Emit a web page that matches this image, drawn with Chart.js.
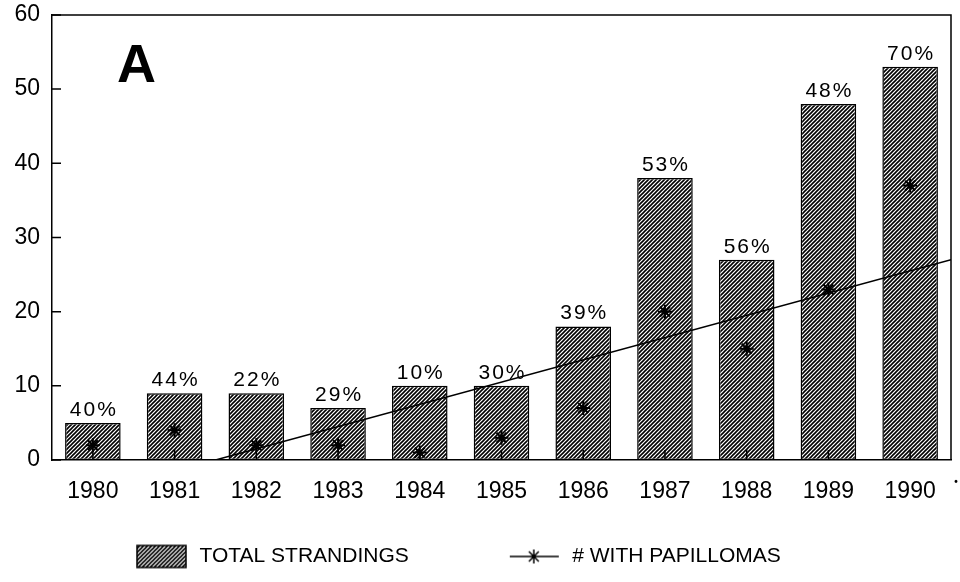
<!DOCTYPE html>
<html>
<head>
<meta charset="utf-8">
<title>Strandings</title>
<script src="https://cdn.jsdelivr.net/npm/chart.js@4.4.1/dist/chart.umd.min.js"></script>
<style>
    html, body { margin: 0; padding: 0; background: #fff; }
    #wrap { width: 960px; height: 582px; }
</style>
</head>
<body>
<div id="wrap"><canvas id="strandChart" width="960" height="582"></canvas></div>
<script>
const years = ['1980', '1981', '1982', '1983', '1984', '1985', '1986', '1987', '1988', '1989', '1990'];
const totalStrandings = [5, 9, 9, 7, 10, 10, 18, 38, 27, 48, 53];
const withPapillomas = [2, 4, 2, 2, 1, 3, 7, 20, 15, 23, 37];
const percentLabels = ['40%', '44%', '22%', '29%', '10%', '30%', '39%', '53%', '56%', '48%', '70%'];
// trend line (category index, value)
const trendX = [1.5, 10.5];
const trendY = [0, 27];
const yMin = 0, yMax = 60, yStep = 10;

const FONT = '"Liberation Sans", Arial, Helvetica, sans-serif';

// hatch fill for the bars
function makeHatch() {
    const pc = document.createElement('canvas');
    pc.width = 4; pc.height = 4;
    const p = pc.getContext('2d');
    p.fillStyle = '#fff';
    p.fillRect(0, 0, 4, 4);
    p.strokeStyle = '#000';
    p.lineWidth = 1.6;
    p.beginPath();
    p.moveTo(0, 4); p.lineTo(4, 0);
    p.moveTo(-1, 1); p.lineTo(1, -1);
    p.moveTo(3, 5); p.lineTo(5, 3);
    p.stroke();
    return p.createPattern(pc, 'repeat');
}

const ctx = document.getElementById('strandChart').getContext('2d');
const hatch = makeHatch();

// legend icons (drawn at the right end of a wide legend box)
const ICON_W = 135;
function boxIcon() {
    const c = document.createElement('canvas');
    c.width = ICON_W; c.height = 26;
    const g = c.getContext('2d');
    g.fillStyle = hatch;
    g.fillRect(83, 2, 49, 22);
    g.strokeStyle = '#000';
    g.lineWidth = 1.5;
    g.strokeRect(83, 2, 49, 22);
    return c;
}

function starIcon() {
    const c = document.createElement('canvas');
    c.width = ICON_W; c.height = 26;
    const g = c.getContext('2d');
    g.strokeStyle = '#000';
    g.lineWidth = 1.5;
    g.beginPath();
    g.moveTo(83, 13); g.lineTo(132, 13);
    const cx = 107, cy = 13, r = 7;
    for (let k = 0; k < 4; k++) {
        const a = k * Math.PI / 4;
        g.moveTo(cx - r * Math.cos(a), cy - r * Math.sin(a));
        g.lineTo(cx + r * Math.cos(a), cy + r * Math.sin(a));
    }
    g.stroke();
    return c;
}

const icons = [boxIcon(), starIcon()];

const decorPlugin = {
    id: 'decor',
    afterLayout(chart) {
        // legend sits a bit right of the canvas edge
        if (chart.legend) chart.legend.left = 36;
    },
    afterDatasetsDraw(chart) {
        const { ctx, chartArea, scales } = chart;
        const x = scales.x, y = scales.y;
        ctx.save();
        ctx.strokeStyle = '#000';
        ctx.lineWidth = 1.5;

        // frame (top + right)
        ctx.beginPath();
        ctx.moveTo(chartArea.left, chartArea.top);
        ctx.lineTo(chartArea.right, chartArea.top);
        ctx.lineTo(chartArea.right, chartArea.bottom);
        ctx.stroke();

        // inward tick marks
        ctx.beginPath();
        y.ticks.forEach((t, i) => {
            const py = y.getPixelForTick(i);
            ctx.moveTo(chartArea.left, py);
            ctx.lineTo(chartArea.left + 9, py);
        });
        x.ticks.forEach((t, i) => {
            const px = x.getPixelForTick(i);
            ctx.moveTo(px, chartArea.bottom);
            ctx.lineTo(px, chartArea.bottom - 10);
        });
        ctx.stroke();

        // percentages above bars
        const meta = chart.getDatasetMeta(0);
        ctx.fillStyle = '#000';
        ctx.font = '21px ' + FONT;
        ctx.textAlign = 'center';
        ctx.textBaseline = 'alphabetic';
        if ('letterSpacing' in ctx) ctx.letterSpacing = '2px';
        meta.data.forEach((bar, i) => {
            ctx.fillText(percentLabels[i], bar.x + 1, bar.y - 7);
        });
        if ('letterSpacing' in ctx) ctx.letterSpacing = '0px';

        // panel letter
        ctx.font = 'bold 54px ' + FONT;
        ctx.textAlign = 'left';
        ctx.fillText('A', chartArea.left + 65, chartArea.top + 67);

        // footnote mark after last year
        const lastX = x.getPixelForTick(years.length - 1);
        ctx.font = 'bold 10px ' + FONT;
        ctx.fillText('•', lastX + 44, chartArea.bottom + 25);
        ctx.restore();
    }
};

new Chart(ctx, {
    type: 'bar',
    data: {
        labels: years,
        datasets: [
            {
                type: 'bar',
                label: 'TOTAL STRANDINGS',
                data: totalStrandings,
                backgroundColor: hatch,
                borderColor: '#000',
                borderWidth: 1.5,
                borderSkipped: false,
                grouped: false,
                categoryPercentage: 1,
                barPercentage: 0.68,
                order: 3
            },
            {
                type: 'line',
                label: '# WITH PAPILLOMAS',
                data: withPapillomas,
                showLine: false,
                pointStyle: 'star',
                pointRadius: 7,
                pointBorderWidth: 2,
                pointBorderColor: '#000',
                pointBackgroundColor: '#000',
                order: 1
            },
            {
                type: 'line',
                label: 'trend',
                xAxisID: 'x2',
                data: trendX.map((v, i) => ({ x: v, y: trendY[i] })),
                borderColor: '#000',
                borderWidth: 1.5,
                pointRadius: 0,
                fill: false,
                order: 2
            }
        ]
    },
    options: {
        responsive: false,
        animation: false,
        layout: { padding: { top: 1, right: 1, bottom: 5, left: 0 } },
        plugins: {
            tooltip: { enabled: false },
            legend: {
                position: 'bottom',
                align: 'start',
                labels: {
                    usePointStyle: true,
                    pointStyleWidth: ICON_W,
                    padding: 18,
                    color: '#000',
                    font: { family: FONT, size: 21 },
                    generateLabels: () => ['TOTAL STRANDINGS', '# WITH PAPILLOMAS'].map((t, i) => ({
                        text: t,
                        pointStyle: icons[i],
                        fillStyle: 'transparent',
                        strokeStyle: 'transparent',
                        lineWidth: 0,
                        fontColor: '#000',
                        datasetIndex: i
                    }))
                }
            }
        },
        scales: {
            x: {
                type: 'category',
                offset: true,
                grid: { display: false },
                border: { display: true, color: '#000', width: 1.5 },
                ticks: { color: '#000', font: { family: FONT, size: 23 }, padding: 10, maxRotation: 0 },
                afterFit: (s) => { s.height = 68; }
            },
            x2: {
                type: 'linear',
                display: false,
                offset: false,
                grid: { offset: false },
                min: -0.5,
                max: years.length - 0.5
            },
            y: {
                min: yMin,
                max: yMax,
                grid: { display: false },
                border: { display: true, color: '#000', width: 1.5 },
                ticks: { stepSize: yStep, color: '#000', font: { family: FONT, size: 23, lineHeight: 0.95 }, padding: 4 },
                afterFit: (s) => { s.width = 52; }
            }
        }
    },
    plugins: [decorPlugin]
});
</script>
</body>
</html>
